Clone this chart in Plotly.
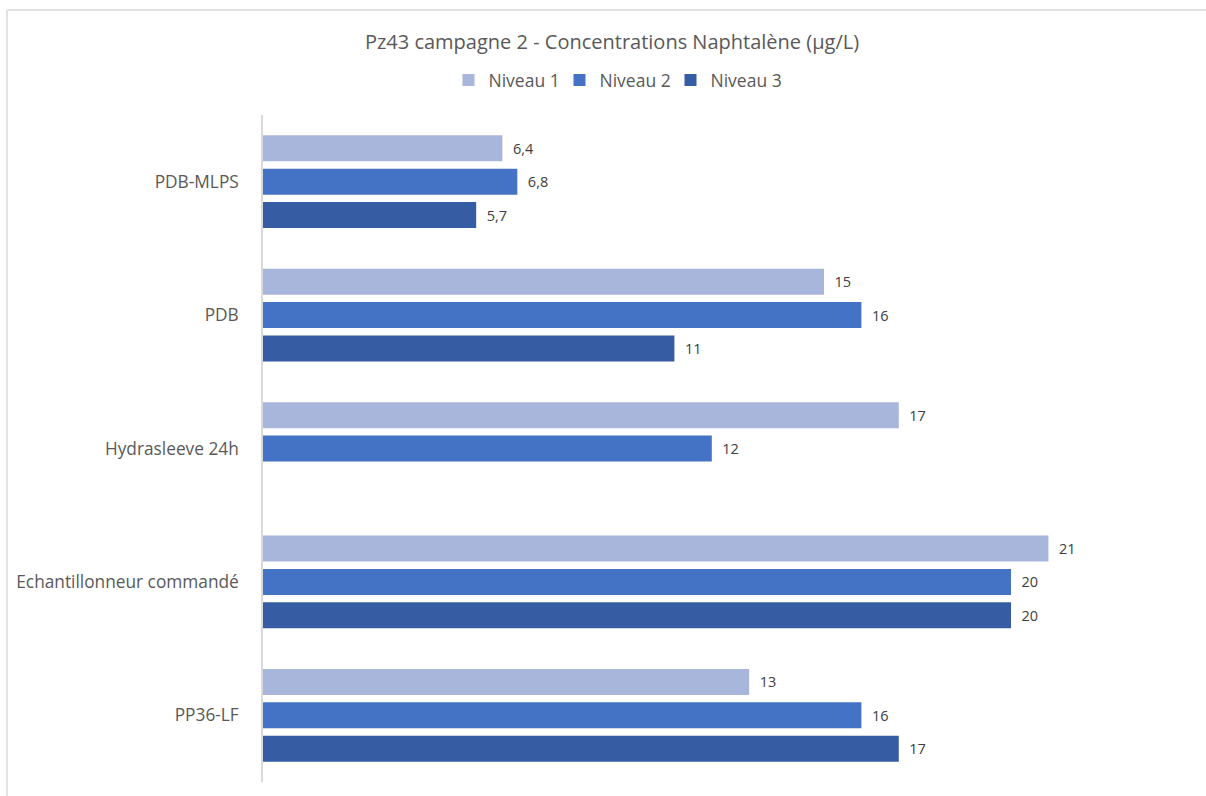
import plotly.graph_objects as go

categories = ["PDB-MLPS", "PDB", "Hydrasleeve 24h", "Echantillonneur commandé", "PP36-LF"]
series_names = ["Niveau 1", "Niveau 2", "Niveau 3"]
niveau1 = [6.4, 15, 17, 21, 13]
niveau2 = [6.8, 16, 12, 20, 16]
niveau3 = [5.7, 11, None, 20, 17]
colors = ["#A9B6DC", "#4472C4", "#365DA3"]

FONT = "Open Sans, Lato, sans-serif"

def fmt(v):
    if v is None:
        return ""
    s = ("%g" % v).replace(".", ",")
    return "  " + s

fig = go.Figure()
for name, vals, col in zip(series_names, [niveau1, niveau2, niveau3], colors):
    fig.add_trace(go.Bar(
        y=categories, x=vals, name=name, orientation="h",
        marker=dict(color=col, line=dict(width=0)),
        text=[fmt(v) for v in vals], textposition="outside",
        textfont=dict(family=FONT, size=14.5, color="#404040"),
        cliponaxis=False,
    ))

fig.update_layout(
    width=1206, height=796,
    paper_bgcolor="white", plot_bgcolor="white",
    margin=dict(l=263, r=8, t=115, b=14),
    barmode="group", bargap=0.25, bargroupgap=0.22,
    title=dict(text="Pz43 campagne 2 - Concentrations Naphtalène (µg/L)",
               x=612 / 1206, xanchor="center", xref="container",
               y=1 - 42 / 796, yanchor="middle", yref="container",
               font=dict(family=FONT, size=20, color="#595959")),
    legend=dict(orientation="h", x=615 / 1206, xanchor="center", xref="container",
                y=1 - 80 / 796, yanchor="middle", yref="container",
                font=dict(family=FONT, size=17.5, color="#595959"),
                itemwidth=30, entrywidth=66, entrywidthmode="pixels",
                traceorder="normal"),
    xaxis=dict(range=[0, 25], showgrid=False, showticklabels=False, zeroline=False,
               showline=False, fixedrange=True),
    yaxis=dict(autorange="reversed", showgrid=False, showline=True, linecolor="#D9D9D9",
               linewidth=1.5, ticks="", ticklabelstandoff=19,
               tickfont=dict(family=FONT, size=17.3, color="#595959")),
    font=dict(family=FONT),
    showlegend=True,
)

# chart border (top and left visible in reference)
fig.add_shape(type="line", xref="paper", yref="paper",
              x0=-256 / 935, x1=1.02, y0=1 + 105 / 667, y1=1 + 105 / 667,
              line=dict(color="#E3E3E3", width=2))
fig.add_shape(type="line", xref="paper", yref="paper",
              x0=-256 / 935, x1=-256 / 935, y0=-0.05, y1=1 + 105 / 667,
              line=dict(color="#E3E3E3", width=2))

fig.write_html("out.html")
